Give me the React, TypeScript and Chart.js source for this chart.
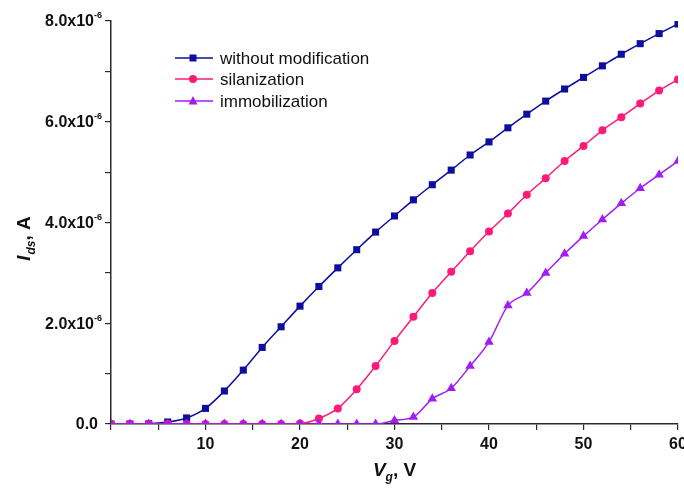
import React, { useEffect, useRef } from "react";
import { Chart, registerables } from "chart.js";

Chart.register(...registerables);

const voltages = [0, 2, 4, 6, 8, 10, 12, 14, 16, 18, 20, 22, 24, 26, 28, 30, 32, 34, 36, 38, 40, 42, 44, 46, 48, 50, 52, 54, 56, 58, 60];

// values in units of 1e-6 A
const withoutModification = [0, 0, 0.005, 0.04, 0.12, 0.31, 0.655, 1.07, 1.52, 1.93, 2.34, 2.73, 3.1, 3.46, 3.81, 4.13, 4.45, 4.75, 5.04, 5.34, 5.6, 5.88, 6.15, 6.41, 6.65, 6.88, 7.11, 7.34, 7.55, 7.75, 7.94];
const silanization = [0, 0, 0, 0, 0, 0, 0, 0, 0, 0, 0.01, 0.11, 0.31, 0.69, 1.15, 1.65, 2.13, 2.6, 3.02, 3.43, 3.82, 4.18, 4.55, 4.88, 5.22, 5.52, 5.83, 6.09, 6.36, 6.62, 6.84];
const immobilization = [0, 0, 0, 0, 0, 0, 0, 0, 0, 0, 0, 0, 0, 0, 0, 0.07, 0.14, 0.5, 0.71, 1.15, 1.63, 2.35, 2.6, 3.0, 3.38, 3.73, 4.06, 4.38, 4.68, 4.95, 5.22];

const seriesNames = ["without modification", "silanization", "immobilization"];
const yTickValues = [0, 2, 4, 6, 8];
const xTickValues = [10, 20, 30, 40, 50, 60];

const BLUE = "#0e0e9e";
const PINK = "#ff1a78";
const PURPLE = "#a01ef5";
const AXIS = "#2a2a2a";
const FONT = "'Liberation Sans', Arial, sans-serif";

const toPoints = (arr: number[]) => voltages.map((v, i) => ({ x: v, y: arr[i] * 1e-6 }));

const labelPlugin = {
  id: "customLabels",
  afterDraw(chart: any) {
    const ctx = chart.ctx as CanvasRenderingContext2D;
    const ys = chart.scales.y;
    const area = chart.chartArea;
    ctx.save();
    ctx.fillStyle = "#111";
    // y tick labels with superscript
    yTickValues.forEach((v) => {
      const py = ys.getPixelForValue(v * 1e-6);
      ctx.textBaseline = "middle";
      if (v === 0) {
        ctx.font = `bold 16px ${FONT}`;
        ctx.textAlign = "right";
        ctx.fillText("0.0", 98, py + 1);
      } else {
        ctx.font = `bold 16px ${FONT}`;
        ctx.textAlign = "right";
        ctx.fillText(`${v}.0x10`, 94, py + 1);
        ctx.font = `bold 9px ${FONT}`;
        ctx.textAlign = "left";
        ctx.fillText("-6", 94, py - 5);
      }
    });
    // y axis title (rotated)
    ctx.save();
    ctx.translate(30, 239);
    ctx.rotate(-Math.PI / 2);
    ctx.textBaseline = "alphabetic";
    ctx.textAlign = "left";
    const partsY = [
      { t: "I", f: `italic bold 19px ${FONT}`, dy: 0 },
      { t: "ds", f: `italic bold 12px ${FONT}`, dy: 5 },
      { t: ", A", f: `bold 19px ${FONT}`, dy: 0 },
    ];
    let total = 0;
    partsY.forEach((p) => { ctx.font = p.f; total += ctx.measureText(p.t).width; });
    let cx = -total / 2;
    partsY.forEach((p) => {
      ctx.font = p.f;
      ctx.fillText(p.t, cx, p.dy);
      cx += ctx.measureText(p.t).width + (p.t === "I" ? 1 : 0);
    });
    ctx.restore();
    // x axis title
    const partsX = [
      { t: "V", f: `italic bold 19px ${FONT}`, dy: 0 },
      { t: "g", f: `italic bold 12px ${FONT}`, dy: 5 },
      { t: ", V", f: `bold 19px ${FONT}`, dy: 0 },
    ];
    total = 0;
    partsX.forEach((p) => { ctx.font = p.f; total += ctx.measureText(p.t).width; });
    cx = (area.left + area.right) / 2 - total / 2;
    ctx.textAlign = "left";
    ctx.textBaseline = "alphabetic";
    partsX.forEach((p) => {
      ctx.font = p.f;
      ctx.fillText(p.t, cx, 476 + p.dy);
      cx += ctx.measureText(p.t).width;
    });
    // legend
    const legendColors = [BLUE, PINK, PURPLE];
    const legendStyles = ["rect", "circle", "triangle"];
    const rows = [58, 79, 101];
    rows.forEach((ry, i) => {
      ctx.strokeStyle = legendColors[i];
      ctx.lineWidth = 1.5;
      ctx.beginPath();
      ctx.moveTo(175, ry);
      ctx.lineTo(213, ry);
      ctx.stroke();
      ctx.fillStyle = legendColors[i];
      const st = legendStyles[i];
      ctx.beginPath();
      if (st === "rect") {
        ctx.rect(193 - 3.5, ry - 3.5, 7, 7);
      } else if (st === "circle") {
        ctx.arc(193, ry, 4, 0, Math.PI * 2);
      } else {
        ctx.moveTo(193, ry - 5);
        ctx.lineTo(197.5, ry + 3.5);
        ctx.lineTo(188.5, ry + 3.5);
        ctx.closePath();
      }
      ctx.fill();
      ctx.fillStyle = "#111";
      ctx.font = `17px ${FONT}`;
      ctx.textAlign = "left";
      ctx.textBaseline = "middle";
      ctx.fillText(seriesNames[i], 220, ry + 1);
    });
    ctx.restore();
  },
};

export default function App() {
  const ref = useRef<HTMLCanvasElement | null>(null);
  useEffect(() => {
    if (!ref.current) return;
    const mk = (data: number[], color: string, style: string, radius: number, order: number, label: string) => ({
      label,
      data: toPoints(data),
      borderColor: color,
      backgroundColor: color,
      pointBackgroundColor: color,
      pointBorderColor: color,
      pointStyle: style,
      pointRadius: radius,
      pointBorderWidth: 0,
      borderWidth: 1.5,
      cubicInterpolationMode: "monotone" as const,
      order,
    });
    const chart = new Chart(ref.current, {
      type: "line",
      data: {
        datasets: [
          mk(withoutModification, BLUE, "rect", 5, 2, seriesNames[0]),
          mk(silanization, PINK, "circle", 4, 1, seriesNames[1]),
          mk(immobilization, PURPLE, "triangle", 5.5, 0, seriesNames[2]),
        ],
      },
      options: {
        responsive: false,
        animation: false,
        layout: { padding: { top: 21, right: 6, left: 0, bottom: 0 } },
        plugins: { legend: { display: false }, tooltip: { enabled: false } },
        scales: {
          x: {
            type: "linear",
            min: 0,
            max: 60,
            afterFit: (s: any) => { s.height = 64; s.paddingRight = 0; s.paddingLeft = 0; },
            border: { display: true, color: AXIS, width: 1.5 },
            grid: { drawOnChartArea: false, tickLength: 6, color: AXIS, lineWidth: 1.2 },
            ticks: {
              stepSize: 5,
              autoSkip: false,
              maxRotation: 0,
              padding: 5,
              color: "#111",
              font: { family: FONT, size: 16, weight: "bold" },
              callback: (v: any) => (xTickValues.includes(Number(v)) ? String(v) : ""),
            },
          },
          y: {
            type: "linear",
            min: 0,
            max: 8e-6,
            afterFit: (s: any) => { s.width = 111; s.paddingTop = 0; s.paddingBottom = 0; },
            border: { display: true, color: AXIS, width: 1.5 },
            grid: { drawOnChartArea: false, tickLength: 6, color: AXIS, lineWidth: 1.2 },
            ticks: {
              stepSize: 1e-6,
              autoSkip: false,
              callback: () => "",
            },
          },
        },
      },
      plugins: [labelPlugin],
    });
    return () => chart.destroy();
  }, []);
  return (
    <canvas
      ref={ref}
      width={684}
      height={488}
      style={{ position: "absolute", left: 0, top: 0, width: 684, height: 488, background: "#fff" }}
    />
  );
}
